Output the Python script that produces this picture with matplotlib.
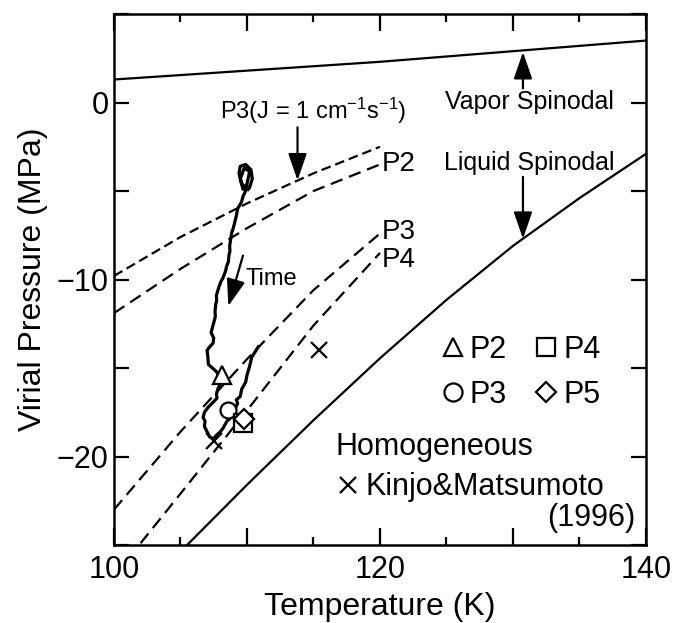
import matplotlib
matplotlib.use('Agg')
from matplotlib import pyplot as plt
from matplotlib.lines import Line2D

plt.rcParams['font.family'] = 'Liberation Sans'
plt.rcParams['mathtext.fontset'] = 'custom'
plt.rcParams['mathtext.rm'] = 'Liberation Sans'
plt.rcParams['mathtext.it'] = 'Liberation Sans:italic'
plt.rcParams['lines.scale_dashes'] = False

# spinodal lines
vap_T = [100, 110, 120, 130, 140]
vap_P = [1.3, 1.8, 2.3, 2.9, 3.5]
liq_T = [105.5, 110, 115, 120, 125, 130, 135, 140]
liq_P = [-25.0, -21.6, -17.95, -14.45, -11.15, -8.1, -5.4, -2.9]

# constant nucleation rate curves
curve_T = [100, 105, 110, 115, 120]
p3j_P = [-9.8, -7.6, -5.7, -4.0, -2.5]
p2_P = [-11.9, -9.4, -7.1, -5.0, -3.5]
p3_P = [-23.0, -18.6, -14.5, -10.6, -7.4]
p4_T = [102, 105, 110, 115, 120]
p4_P = [-24.9, -22.1, -17.4, -12.6, -8.5]

# MD trajectory (T, virial pressure)
traj_T = [110.1, 109.6, 109.4, 109.5, 109.9, 110.3, 110.4, 110.2, 109.7, 109.5,
          109.8, 110.2, 110.0, 109.9, 109.7, 109.6, 109.3, 109.2, 108.97, 108.85,
          108.8, 108.7, 108.72, 108.65, 108.6, 108.45, 108.4, 108.2, 108.05, 107.9,
          107.7, 107.72, 107.65, 107.6, 107.62, 107.55, 107.3, 107.5, 107.45, 107.2,
          107.0, 107.05, 107.1, 107.4, 107.7, 107.85, 108.0, 107.8, 107.7, 107.75,
          107.5, 107.1, 106.8, 106.7, 106.85, 106.8, 107.0, 107.2, 107.5, 107.7,
          108.0, 108.2, 108.5, 108.8, 109.1, 109.3, 109.2, 109.5, 109.6, 109.9,
          110.0, 110.2, 110.35, 110.6, 110.85]
traj_P = [-4.9, -4.6, -4.0, -3.6, -3.5, -3.8, -4.3, -4.8, -4.9, -4.3,
          -3.7, -3.9, -4.6, -5.0, -5.3, -5.6, -6.0, -6.4, -7.1, -7.35,
          -7.6, -8.1, -8.4, -8.6, -9.0, -9.3, -9.5, -9.9, -10.1, -10.4,
          -10.9, -11.2, -11.4, -11.8, -12.1, -12.3, -13.0, -13.3, -13.6, -13.8,
          -14.0, -14.3, -14.8, -15.0, -15.2, -15.4, -15.9, -16.2, -16.5, -16.7,
          -16.9, -17.2, -17.5, -17.8, -18.0, -18.3, -18.6, -18.9, -19.0, -18.8,
          -18.6, -18.4, -18.0, -17.8, -17.3, -17.0, -16.8, -16.6, -16.2, -15.8,
          -15.4, -14.9, -14.4, -14.1, -13.8]

# nucleation points
pt_names = ['P2', 'P3', 'P4', 'P5']
pt_T = [108.1, 108.6, 109.7, 109.8]
pt_P = [-15.4, -17.4, -18.1, -17.9]
pt_marker = ['^', 'o', 's', 'D']
pt_size = [13, 11.5, 13, 10]

# Kinjo & Matsumoto (1996)
km_T = [107.5, 115.4]
km_P = [-19.1, -14.0]

fig = plt.figure(figsize=(6.87, 6.23), dpi=100)
ax = fig.add_axes([0.1659, 0.1252, 0.7744, 0.8523])

ax.plot(vap_T, vap_P, color='k', lw=1.6)
ax.plot(liq_T, liq_P, color='k', lw=1.6)
ax.plot(curve_T, p3j_P, color='k', lw=1.6, dashes=(7, 3.5))
ax.plot(curve_T, p2_P, color='k', lw=1.6, dashes=(9, 5))
ax.plot(curve_T, p3_P, color='k', lw=1.6, dashes=(9, 5))
ax.plot(p4_T, p4_P, color='k', lw=1.6, dashes=(9, 5))

ax.plot(traj_T, traj_P, color='k', lw=2.3, solid_joinstyle='round')

ax.plot(km_T, km_P, 'x', color='k', ms=11, mew=1.6)
for t, p, m, s in zip(pt_T, pt_P, pt_marker, pt_size):
    ax.plot(t, p, m, ms=s, mfc='white', mec='k', mew=1.6)

arrow = dict(arrowstyle='-|>,head_length=0.55,head_width=0.19', color='k',
             lw=1.6, mutation_scale=30, shrinkA=0, shrinkB=0)
ax.annotate('', xy=(130.75, 2.85), xytext=(130.75, 0.8), arrowprops=arrow)
ax.annotate('', xy=(130.75, -7.7), xytext=(130.75, -4.2), arrowprops=arrow)
ax.annotate('', xy=(113.8, -4.4), xytext=(113.8, -1.4), arrowprops=arrow)
ax.annotate('', xy=(108.6, -11.5), xytext=(109.7, -8.65), arrowprops=arrow)

ax.text(124.9, 0.05, 'Vapor Spinodal', fontsize=18, va='center')
ax.text(124.8, -3.4, 'Liquid Spinodal', fontsize=18, va='center')
ax.text(108.0, -0.5, 'P3(J = 1 cm$^{\u22121}$s$^{\u22121}$)', fontsize=17, va='center')
ax.text(109.9, -9.95, 'Time', fontsize=17, va='center')
ax.text(120.1, -3.5, 'P2', fontsize=20, va='center')
ax.text(120.1, -7.3, 'P3', fontsize=20, va='center')
ax.text(120.1, -8.9, 'P4', fontsize=20, va='center')

handles = [Line2D([], [], ls='none', marker=m, ms=13 if m != 'D' else 10,
                  mfc='white', mec='k', mew=1.6) for m in pt_marker]
leg = ax.legend(handles, pt_names, ncol=2, loc='upper left',
                bbox_to_anchor=(0.585, 0.425), frameon=False, fontsize=22,
                handlelength=0.8, handletextpad=0.15, columnspacing=0.9,
                labelspacing=0.5, borderpad=0.0)

ax.text(0.417, 0.185, 'Homogeneous', transform=ax.transAxes, fontsize=22, va='center')
ax.plot([0.440], [0.113], 'x', color='k', ms=11, mew=1.6, transform=ax.transAxes)
ax.text(0.472, 0.110, 'Kinjo&Matsumoto', transform=ax.transAxes, fontsize=22, va='center')
ax.text(0.98, 0.051, '(1996)', transform=ax.transAxes, fontsize=22, va='center', ha='right')

ax.set_xlim(100, 140)
ax.set_ylim(-25, 5)
ax.set_xticks([100, 110, 120, 130, 140])
ax.set_xticklabels(['100', '', '120', '', '140'])
ax.set_xticks([105, 115, 125, 135], minor=True)
ax.set_yticks([-25, -20, -15, -10, -5, 0, 5])
ax.set_yticklabels(['', '\u221220', '', '\u221210', '', '0', ''])
ax.tick_params(which='both', direction='in', top=True, right=True, width=1.6,
               labelsize=22, colors='k')
ax.tick_params(axis='x', which='major', length=12, pad=7)
ax.tick_params(axis='x', which='minor', length=6)
ax.tick_params(axis='y', which='major', length=11, pad=4)
for s in ax.spines.values():
    s.set_linewidth(1.8)

ax.set_xlabel('Temperature (K)', fontsize=23, labelpad=5)
ax.set_ylabel('Virial Pressure (MPa)', fontsize=23, labelpad=6)

fig.savefig('out.png', dpi=100)
